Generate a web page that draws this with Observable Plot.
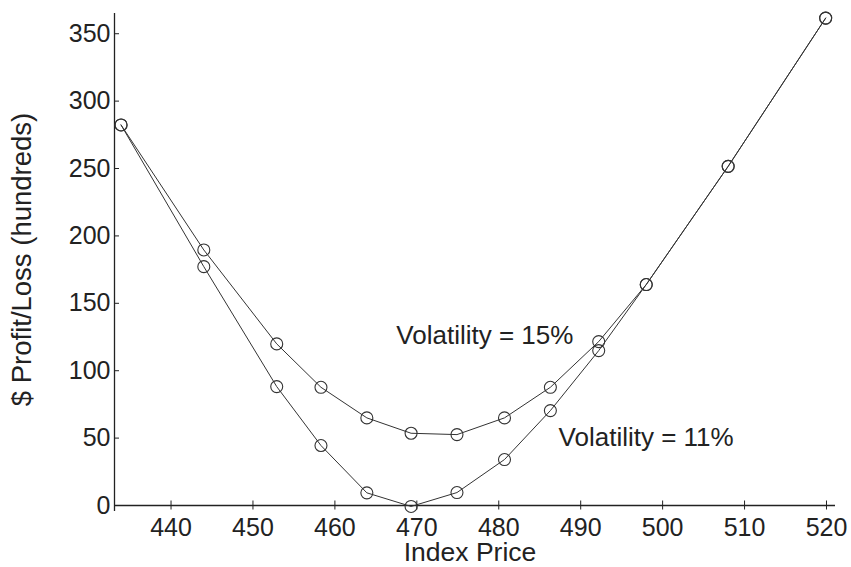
<!DOCTYPE html>
<html>
<head>
<meta charset="utf-8">
<script src="https://cdn.jsdelivr.net/npm/d3@7"></script>
<script src="https://cdn.jsdelivr.net/npm/@observablehq/plot@0.6"></script>
<style>
  html, body { margin: 0; padding: 0; background: #fff; }
  svg { display: block; }
</style>
</head>
<body>
<div id="chart"></div>
<script>
// Data
const indexPrice = [433.9, 444.0, 452.9, 458.3, 463.9, 469.3, 474.9, 480.7, 486.3, 492.2, 498.0, 508.0, 519.9];
const vol15 = [282.3, 189.6, 119.9, 87.7, 65.0, 53.6, 52.6, 65.0, 87.7, 121.6, 163.9, 251.6, 361.6];
const vol11 = [282.3, 177.2, 88.2, 44.5, 9.4, -0.7, 9.6, 34.1, 70.4, 114.9, 163.9, 251.6, 361.6];
const xTicks = [440, 450, 460, 470, 480, 490, 500, 510, 520];
const yTicks = [0, 50, 100, 150, 200, 250, 300, 350];
const xDomain = [433.1, 521.1];
const yDomain = [0, 365];
const seriesLabels = ["Volatility = 15%", "Volatility = 11%"];
const labelX = [467.5, 487.3];
const labelY = [126, 50];

const rows = [];
indexPrice.forEach((x, i) => {
  rows.push({series: seriesLabels[0], x, y: vol15[i]});
  rows.push({series: seriesLabels[1], x, y: vol11[i]});
});
const annotations = seriesLabels.map((t, i) => ({text: t, x: labelX[i], y: labelY[i]}));

const ink = "#222";
const font = "Liberation Sans, Arial, Helvetica, sans-serif";

const chart = Plot.plot({
  width: 851,
  height: 567,
  marginTop: 13,
  marginRight: 16,
  marginBottom: 62,
  marginLeft: 114,
  style: {fontFamily: font, color: ink, background: "#fff"},
  x: {domain: xDomain},
  y: {domain: yDomain},
  marks: [
    // axis lines
    Plot.ruleY([yDomain[0]], {stroke: ink, strokeWidth: 1.3}),
    Plot.ruleX([xDomain[0]], {stroke: ink, strokeWidth: 1.3, insetBottom: -6}),
    // tick marks
    Plot.axisX(xTicks, {tickSize: 9, dy: -4.5, tickFormat: () => "", label: null, stroke: ink}),
    Plot.axisY(yTicks, {tickSize: 5, dx: 5, tickFormat: () => "", label: null, stroke: ink}),
    // tick labels
    Plot.axisX(xTicks, {tickSize: 0, tickPadding: 13, fontSize: 25, label: null, fill: ink}),
    Plot.axisY(yTicks, {tickSize: 0, tickPadding: 4, fontSize: 25, label: null, fill: ink}),
    // axis titles
    Plot.text(["Index Price"], {frameAnchor: "bottom", lineAnchor: "middle", textAnchor: "middle", dy: 47, dx: -5, fontSize: 26.5, fill: ink}),
    Plot.text(["$ Profit/Loss (hundreds)"], {frameAnchor: "left", lineAnchor: "middle", textAnchor: "middle", rotate: -90, dx: -92, dy: 0, fontSize: 27.5, fill: ink}),
    // series
    Plot.line(rows, {x: "x", y: "y", z: "series", stroke: "#333", strokeWidth: 1}),
    Plot.dot(rows, {x: "x", y: "y", r: 6, stroke: "#333", strokeWidth: 1.1, fill: "none"}),
    // annotations
    Plot.text(annotations, {x: "x", y: "y", text: "text", textAnchor: "start", fontSize: 26, fill: ink})
  ]
});
document.getElementById("chart").appendChild(chart);
</script>
</body>
</html>
